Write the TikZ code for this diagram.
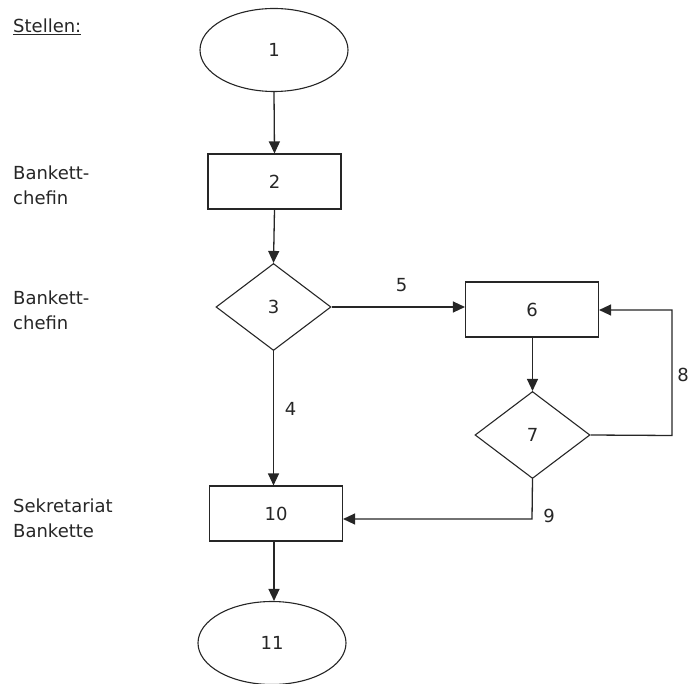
\documentclass[tikz,border=0pt]{standalone}
\usepackage{fontspec}
\setmainfont{DejaVu Sans}
\usetikzlibrary{shapes.geometric,arrows.meta}
\begin{document}
\begin{tikzpicture}[x=1pt,y=-1pt,
  every node/.style={font=\fontsize{18}{25}\selectfont, text=black!85},
  line/.style={draw=black!85, line width=1.3pt},
  arr/.style={line, -{Triangle[length=12pt,width=11pt]}},
  term/.style={ellipse, draw=black!85, line width=1.1pt, minimum width=148pt, minimum height=83pt, inner sep=0pt},
  proc/.style={rectangle, draw=black!85, line width=1.1pt, minimum width=133pt, minimum height=55pt, inner sep=0pt},
  dec/.style={diamond, draw=black!85, line width=1.1pt, minimum width=115pt, minimum height=87pt, inner sep=0pt, aspect=1.32},
  lbl/.style={anchor=west, align=left, inner sep=0pt},
  num/.style={inner sep=0pt}]
\useasboundingbox (0,0) rectangle (690,684);
\node[term] (n1) at (274,50) {1};
\node[proc] (n2) at (274.5,181.5) {2};
\node[dec] (n3) at (273.5,307) {3};
\node[proc] (n6) at (532,309.5) {6};
\node[dec] (n7) at (532.5,435) {7};
\node[proc] (n10) at (276,513.5) {10};
\node[term] (n11) at (272,643) {11};
\coordinate (c8a) at (672,435.5);
\coordinate (c8b) at (672,310);
\coordinate (c9) at (532,519);
\node[lbl] (s0) at (13,27) {\underline{Stellen:}};
\node[lbl] (s1) at (13,185) {Bankett-\\chefin};
\node[lbl] (s2) at (13,310) {Bankett-\\chefin};
\node[lbl] (s3) at (13,518) {Sekretariat\\Bankette};
\node[num] (l4) at (290.5,409) {4};
\node[num] (l5) at (401.5,285.5) {5};
\node[num, anchor=east] (l8) at (689,375) {8};
\node[num] (l9) at (549,515.5) {9};
\draw[arr] (n1.south) -- (n2.north);
\draw[arr] (n2.south) -- (n3.north);
\draw[arr] (n3.east) -- (n3.east -| n6.west);
\draw[arr] (n3.south) -- (n3.south |- n10.north);
\draw[arr] (n6.south -| n7.north) -- (n7.north);
\draw[arr] (n7.east) -- (c8a) -- (c8b) -- (c8b -| n6.east);
\draw[arr] (n7.south) -- (c9) -- (c9 -| n10.east);
\draw[arr] (n10.south -| 274,0) -- (n11.north -| 274,0);
\end{tikzpicture}
\end{document}
